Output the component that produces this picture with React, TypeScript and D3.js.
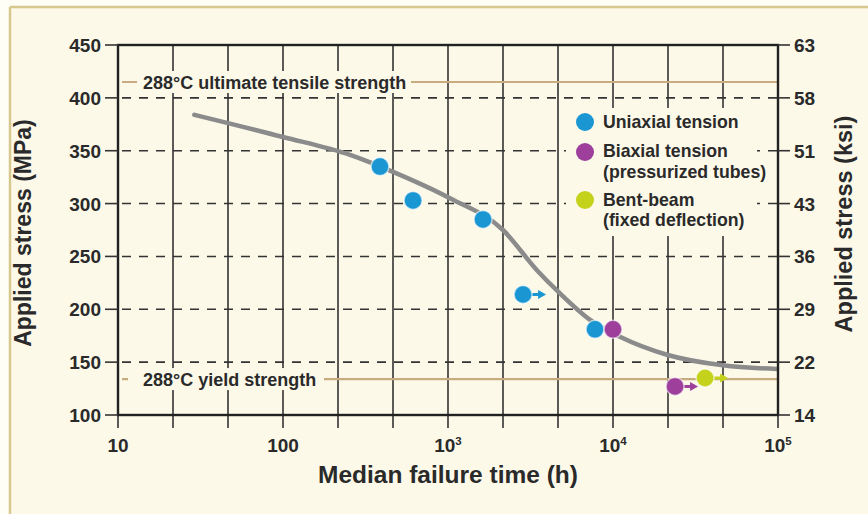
import React from "react";
import * as d3 from "d3";

// Smooth master curve: median failure time (h) vs applied stress (MPa)
const curveHours = [29, 100, 255, 464, 1028, 2154, 3459, 4772, 7260, 11020, 21230, 46400, 98600];
const curveMPa = [384, 363, 346, 330, 305, 275, 237, 215, 190, 174, 157, 147, 143.5];

// Test results
const uniaxialHours = [387, 614, 1630, 2851, 7780];
const uniaxialMPa = [335, 303, 285, 214, 181];
const uniaxialRunout = [false, false, false, true, false];

const biaxialHours = [10000, 23770];
const biaxialMPa = [181, 127];
const biaxialRunout = [false, true];

const bentHours = [36150];
const bentMPa = [135];
const bentRunout = [true];

// Reference strengths at 288°C (MPa)
const ultimateStrength = 415;
const yieldStrength = 134;

// Axis ticks
const mpaTicks = [100, 150, 200, 250, 300, 350, 400, 450];
const ksiLabels = ["14", "22", "29", "36", "43", "51", "58", "63"];
const decadeTicks = [10, 100, 1000, 10000, 100000];
const decadeBase = ["10", "100", "10", "10", "10"];
const decadeExp = ["", "", "3", "4", "5"];
const gridSteps = d3.range(0, 13);

const COLORS = {
  uniaxial: "#1a97d2",
  biaxial: "#9d3f9b",
  bent: "#c4d21b",
  curve: "#8b8b8b",
  tan: "#c9ab80",
  ink: "#2a2a2a",
  bg: "#fcf9e9",
};

const FONT = "'Liberation Sans', Arial, Helvetica, sans-serif";

export default function App() {
  const W = 868;
  const H = 514;
  const x = d3.scaleLog().domain([10, 1e5]).range([118, 778]);
  const y = d3.scaleLinear().domain([100, 450]).range([415, 45]);
  const [x0, x1] = x.range();
  const [yb, yt] = y.range();

  const line = d3
    .line<number>()
    .x((_, i) => x(curveHours[i]))
    .y((d) => y(d))
    .curve(d3.curveMonotoneX);

  const r = 9;

  const series = [
    { hours: uniaxialHours, mpa: uniaxialMPa, runout: uniaxialRunout, color: COLORS.uniaxial },
    { hours: biaxialHours, mpa: biaxialMPa, runout: biaxialRunout, color: COLORS.biaxial },
    { hours: bentHours, mpa: bentMPa, runout: bentRunout, color: COLORS.bent },
  ];

  const gridX = gridSteps.map((k) => 10 ** (1 + k / 3));

  return (
    <svg
      width={W}
      height={H}
      style={{ position: "absolute", left: 0, top: 0, fontFamily: FONT }}
    >
      {/* page background and frame */}
      <rect x={0} y={0} width={W} height={H} fill="#fffef6" />
      <rect x={10} y={7} width={W - 10} height={H - 7} fill={COLORS.bg} />
      <line x1={10} y1={7} x2={W} y2={7} stroke="#d6c88f" strokeWidth={2.5} />
      <line x1={10} y1={7} x2={10} y2={H} stroke="#d6c88f" strokeWidth={2.5} />

      {/* dashed horizontal gridlines */}
      {mpaTicks.slice(1, -1).map((v) => (
        <line
          key={"h" + v}
          x1={x0}
          x2={x1}
          y1={y(v)}
          y2={y(v)}
          stroke="#333"
          strokeWidth={1.6}
          strokeDasharray="9,8"
          strokeDashoffset={-4}
        />
      ))}

      {/* solid vertical gridlines with ticks below the axis */}
      {gridX.map((v, i) => (
        <line
          key={"v" + i}
          x1={x(v)}
          x2={x(v)}
          y1={yt}
          y2={yb + 13}
          stroke="#333"
          strokeWidth={1.6}
        />
      ))}

      {/* 288°C strength lines */}
      <line x1={x0 + 4} x2={x1} y1={y(ultimateStrength)} y2={y(ultimateStrength)} stroke={COLORS.tan} strokeWidth={2.2} />
      <line x1={x0 + 4} x2={x1} y1={y(yieldStrength)} y2={y(yieldStrength)} stroke={COLORS.tan} strokeWidth={2.2} />

      <rect x={137} y={y(ultimateStrength) - 11} width={274} height={22} fill={COLORS.bg} />
      <text x={143} y={y(ultimateStrength) + 6.5} fontSize={18} fontWeight="bold" fill={COLORS.ink}>
        288°C ultimate tensile strength
      </text>
      <rect x={128} y={y(yieldStrength) - 11} width={196} height={22} fill={COLORS.bg} />
      <text x={143} y={y(yieldStrength) + 6.5} fontSize={18} fontWeight="bold" fill={COLORS.ink}>
        288°C yield strength
      </text>

      {/* legend */}
      <rect x={566} y={108} width={191} height={128} fill={COLORS.bg} />
      {[
        { color: COLORS.uniaxial, cy: 122, lines: ["Uniaxial tension"], base: [128] },
        { color: COLORS.biaxial, cy: 152, lines: ["Biaxial tension", "(pressurized tubes)"], base: [157, 178] },
        { color: COLORS.bent, cy: 200, lines: ["Bent-beam", "(fixed deflection)"], base: [206, 226] },
      ].map((item, i) => (
        <g key={"lg" + i}>
          <circle cx={585} cy={item.cy} r={r} fill={item.color} />
          {item.lines.map((t, j) => (
            <text key={j} x={603} y={item.base[j]} fontSize={17.7} fontWeight="bold" fill={COLORS.ink}>
              {t}
            </text>
          ))}
        </g>
      ))}

      {/* master curve */}
      <path d={line(curveMPa) || ""} fill="none" stroke={COLORS.curve} strokeWidth={4.5} strokeLinecap="round" />

      {/* data points, arrows mark tests still running */}
      {series.map((s, si) =>
        s.hours.map((h, i) => {
          const cx = x(h);
          const cy = y(s.mpa[i]);
          return (
            <g key={"p" + si + "-" + i}>
              {s.runout[i] && (
                <g>
                  <line x1={cx + r - 2} x2={cx + r + 8} y1={cy} y2={cy} stroke={s.color} strokeWidth={3} />
                  <path
                    d={`M${cx + r + 6},${cy - 4.5} L${cx + r + 14},${cy} L${cx + r + 6},${cy + 4.5} Z`}
                    fill={s.color}
                  />
                </g>
              )}
              <circle cx={cx} cy={cy} r={r} fill={s.color} stroke="#ffffff" strokeOpacity={0.6} strokeWidth={1.5} />
            </g>
          );
        })
      )}

      {/* plot frame */}
      <rect x={x0} y={yt} width={x1 - x0} height={yb - yt} fill="none" stroke="#222" strokeWidth={2.4} />

      {/* left axis */}
      {mpaTicks.map((v) => (
        <g key={"l" + v}>
          <line x1={x0 - 13} x2={x0} y1={y(v)} y2={y(v)} stroke="#333" strokeWidth={1.6} />
          <text x={x0 - 17} y={y(v) + 7} fontSize={19} fontWeight="bold" textAnchor="end" fill={COLORS.ink}>
            {v}
          </text>
        </g>
      ))}

      {/* right axis in ksi */}
      {mpaTicks.map((v, i) => (
        <g key={"r" + v}>
          <line x1={x1} x2={x1 + 12} y1={y(v)} y2={y(v)} stroke="#333" strokeWidth={1.6} />
          <text x={x1 + 16} y={y(v) + 7} fontSize={19} fontWeight="bold" fill={COLORS.ink}>
            {ksiLabels[i]}
          </text>
        </g>
      ))}

      {/* bottom axis */}
      {decadeTicks.map((v, i) => (
        <text key={"b" + v} x={x(v)} y={452} fontSize={19} fontWeight="bold" textAnchor="middle" fill={COLORS.ink}>
          {decadeBase[i]}
          {decadeExp[i] && (
            <tspan fontSize={11.5} dy={-7.5}>
              {decadeExp[i]}
            </tspan>
          )}
        </text>
      ))}

      {/* axis titles */}
      <text x={448} y={483} fontSize={24.5} fontWeight="bold" textAnchor="middle" fill={COLORS.ink}>
        Median failure time (h)
      </text>
      <text
        transform={`translate(31,233) rotate(-90)`}
        fontSize={23}
        fontWeight="bold"
        textAnchor="middle"
        fill={COLORS.ink}
      >
        Applied stress (MPa)
      </text>
      <text
        transform={`translate(852,224) rotate(-90)`}
        fontSize={23.5}
        fontWeight="bold"
        textAnchor="middle"
        fill={COLORS.ink}
      >
        Applied stress (ksi)
      </text>
    </svg>
  );
}
